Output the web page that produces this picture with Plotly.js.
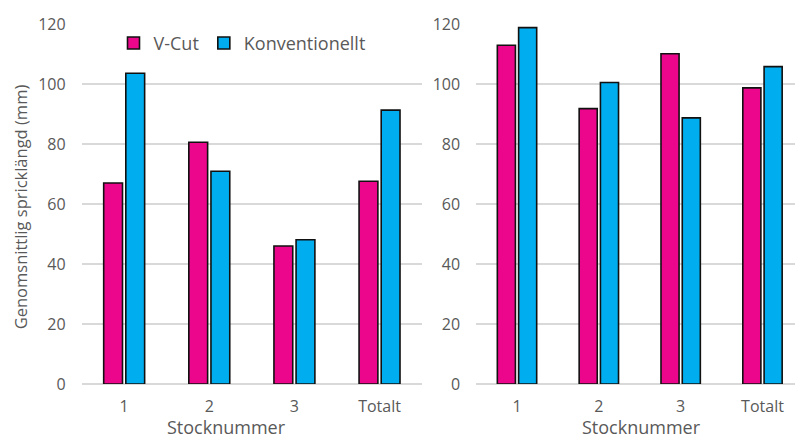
<!DOCTYPE html>
<html>
<head>
<meta charset="utf-8">
<script src="https://cdn.plot.ly/plotly-3.0.1.min.js"></script>
<style>
  html, body { margin: 0; padding: 0; background: #fff; }
  #chart { width: 795px; height: 441px; }
</style>
</head>
<body>
<div id="chart"></div>
<script>
// Log numbers (stocknummer) and the overall total
const categories = ['1', '2', '3', 'Totalt'];

// Left panel: average crack length (mm)
const leftVCut = [67.0, 80.6, 46.0, 67.6];
const leftKonv = [103.6, 70.9, 48.1, 91.3];

// Right panel: average crack length (mm)
const rightVCut = [112.9, 91.8, 110.1, 98.7];
const rightKonv = [118.8, 100.5, 88.7, 105.8];

const seriesNames = ['V-Cut', 'Konventionellt'];
const yTicks = [0, 20, 40, 60, 80, 100, 120];

const PINK = '#EC068B';
const BLUE = '#00AEEF';
const TEXT = '#595959';
const GRID = '#D9D9D9';
const FONT = '"Open Sans", "Noto Sans", sans-serif';

const W = 795, H = 441;
const plotTop = 23.7, plotBottom = 383.7;
const plotH = plotBottom - plotTop;

// convert a pixel row (from the top of the page) to paper y
const py = (px) => (plotBottom - px) / plotH;

function barTrace(x, y, name, color, xa, ya, showLegend) {
  return {
    type: 'bar', x: x, y: y, name: name,
    xaxis: xa, yaxis: ya,
    marker: { color: color, line: { color: '#111111', width: 1.6 } },
    showlegend: showLegend, hoverinfo: 'x+y'
  };
}

const data = [
  barTrace(categories, leftVCut, seriesNames[0], PINK, 'x', 'y', true),
  barTrace(categories, leftKonv, seriesNames[1], BLUE, 'x', 'y', true),
  barTrace(categories, rightVCut, seriesNames[0], PINK, 'x2', 'y2', false),
  barTrace(categories, rightKonv, seriesNames[1], BLUE, 'x2', 'y2', false)
];

function yAxis(anchor) {
  return {
    anchor: anchor, domain: [0, 1],
    range: [0, 120], tickvals: yTicks, ticktext: yTicks.map(String),
    showgrid: true, gridcolor: GRID, gridwidth: 1.3,
    zeroline: true, zerolinecolor: GRID, zerolinewidth: 1.3,
    showline: false, ticks: '', ticklabelstandoff: 15,
    tickfont: { family: FONT, size: 16, color: TEXT },
    fixedrange: true
  };
}

function xAxis(anchor, domain, range) {
  return {
    anchor: anchor, domain: domain, type: 'category',
    range: range, showgrid: false, zeroline: false, showline: false,
    ticks: '', ticklabelstandoff: 11,
    tickfont: { family: FONT, size: 16, color: TEXT },
    fixedrange: true
  };
}

// the right panel runs past the page edge, so its last category is trimmed
const leftDomain = [81.6 / W, 422.1 / W];
const rightDomain = [476.1 / W, 1];
const rightSpan = 3.5 - (803.4 - W) / 81.8;

const titleFont = { family: FONT, size: 18, color: TEXT };

const layout = {
  width: W, height: H,
  margin: { l: 0, r: 0, t: plotTop, b: H - plotBottom, pad: 0 },
  paper_bgcolor: '#ffffff', plot_bgcolor: '#ffffff',
  font: { family: FONT, color: TEXT },
  barmode: 'group', bargap: 0.48, bargroupgap: 0.15,
  xaxis: xAxis('y', leftDomain, [-0.5, 3.5]),
  yaxis: yAxis('x'),
  xaxis2: xAxis('y2', rightDomain, [-0.5, rightSpan]),
  yaxis2: yAxis('x2'),
  showlegend: true,
  legend: {
    orientation: 'h', x: 242 / W, xanchor: 'center',
    y: py(43), yanchor: 'middle',
    font: titleFont,
    bgcolor: 'rgba(0,0,0,0)', itemclick: false, itemdoubleclick: false,
    traceorder: 'normal'
  },
  annotations: [
    {
      text: 'Genomsnittlig spricklängd (mm)', textangle: -90,
      xref: 'paper', yref: 'paper', x: 20 / W, y: py(207),
      xanchor: 'center', yanchor: 'middle', showarrow: false,
      font: { family: FONT, size: 16.5, color: TEXT }
    },
    {
      text: 'Stocknummer', xref: 'paper', yref: 'paper',
      x: 226 / W, y: py(441),
      xanchor: 'center', yanchor: 'bottom', showarrow: false,
      font: titleFont
    },
    {
      text: 'Stocknummer', xref: 'paper', yref: 'paper',
      x: 641 / W, y: py(441),
      xanchor: 'center', yanchor: 'bottom', showarrow: false,
      font: titleFont
    }
  ]
};

Plotly.newPlot('chart', data, layout, { displayModeBar: false, staticPlot: true });
</script>
</body>
</html>
